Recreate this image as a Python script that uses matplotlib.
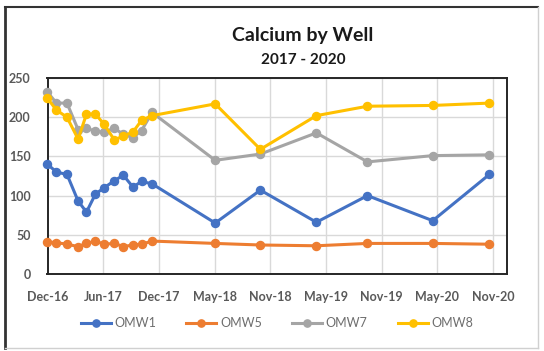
import matplotlib
matplotlib.use("Agg")
import matplotlib.pyplot as plt
import matplotlib.dates as mdates
from matplotlib.lines import Line2D
import numpy as np
import datetime as dt

# Sampling dates and calcium concentrations (mg/L) per well
sample_dates = ['2016-12-06', '2017-01-04', '2017-02-07', '2017-03-15', '2017-04-11',
                '2017-05-10', '2017-06-07', '2017-07-10', '2017-08-08', '2017-09-08',
                '2017-10-06', '2017-11-09', '2018-06-01', '2018-10-25', '2019-04-24',
                '2019-10-06', '2020-05-04', '2020-11-03']
omw1 = [140, 130, 127, 93, 79, 102, 110, 119, 126, 111, 118, 115, 65, 107, 66, 100, 68, 127]
omw5 = [41, 40, 38, 35, 39, 42, 38, 39, 35, 37, 38, 42, 39, 37, 36, 39, 39, 38]
omw7 = [232, 218, 218, 184, 186, 182, 181, 186, 178, 174, 183, 206, 145, 153, 180, 143, 151, 152]
omw8 = [224, 209, 200, 172, 204, 204, 191, 171, 176, 181, 196, 202, 217, 159, 202, 214, 215, 218]
series_names = ['OMW1', 'OMW5', 'OMW7', 'OMW8']
series_colors = ['#4472C4', '#ED7D31', '#A5A5A5', '#FFC000']

# Date axis: one label every 180 days starting at the first sample
axis_start = dt.date(2016, 12, 6)
tick_dates = [axis_start + dt.timedelta(days=180 * k) for k in range(9)]
axis_end = tick_dates[-1] + dt.timedelta(days=44)

plt.rcParams['font.family'] = ['Lato', 'DejaVu Sans']

fig = plt.figure(figsize=(5.44, 3.51), dpi=100)
ax = fig.add_axes([47.5 / 544, 1 - 274 / 351, (506.7 - 47.5) / 544, (274 - 78) / 351])

x = [dt.datetime.strptime(d, '%Y-%m-%d') for d in sample_dates]
for vals, name, col in zip([omw1, omw5, omw7, omw8], series_names, series_colors):
    ax.plot(x, vals, color=col, lw=2.2, marker='o', ms=5.8, label=name,
            clip_on=False, zorder=3)

ax.set_xlim(axis_start, axis_end)
ax.set_ylim(0, 250)
ax.set_yticks(np.arange(0, 251, 50))
ax.set_xticks(tick_dates)
ax.xaxis.set_major_formatter(mdates.DateFormatter('%b-%y'))

ax.grid(True, color='#D9D9D9', lw=1.0, zorder=0)
ax.set_axisbelow(True)
for sp in ax.spines.values():
    sp.set_color('#262626')
    sp.set_linewidth(1.4)
ax.tick_params(axis='both', length=0, colors='#595959', labelsize=9)
ax.tick_params(axis='x', pad=12)
ax.tick_params(axis='y', pad=12)
for lab in ax.get_xticklabels() + ax.get_yticklabels():
    lab.set_fontweight('bold')

fig.text(0.557, 1 - 36 / 351, 'Calcium by Well', ha='center', va='center',
         fontsize=14, fontweight='bold', color='#1a1a1a')
fig.text(0.557, 1 - 60 / 351, '2017 - 2020', ha='center', va='center',
         fontsize=11, fontweight='bold', color='#1a1a1a')

leg = ax.legend(loc='center', bbox_to_anchor=(0.5, -0.25), ncol=4, frameon=False,
                fontsize=9, handlelength=2.4, handletextpad=0.3, columnspacing=2.4,
                markerscale=0.9)
for t in leg.get_texts():
    t.set_color('#6E6E6E')

# Chart frame
frame_kw = dict(transform=fig.transFigure)
fig.add_artist(Line2D([5 / 544, 5 / 544], [1 - 7 / 351, 1 - 348 / 351], color='#333333', lw=2, **frame_kw))
fig.add_artist(Line2D([5 / 544, 538 / 544], [1 - 7 / 351, 1 - 7 / 351], color='#333333', lw=1.5, **frame_kw))
fig.add_artist(Line2D([538 / 544, 538 / 544], [1 - 7 / 351, 1 - 348 / 351], color='#D0D0D0', lw=1, **frame_kw))
fig.add_artist(Line2D([5 / 544, 538 / 544], [1 - 348 / 351, 1 - 348 / 351], color='#D0D0D0', lw=1, **frame_kw))

fig.savefig('out.png', dpi=100)
